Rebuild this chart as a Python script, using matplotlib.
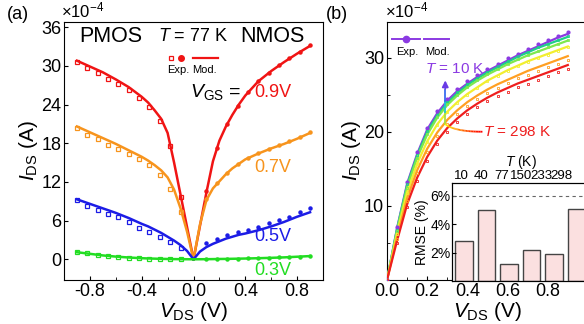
import matplotlib
matplotlib.use('Agg')
import matplotlib.pyplot as plt
from matplotlib.collections import LineCollection
import numpy as np

plt.rcParams['font.family'] = ['Liberation Sans', 'DejaVu Sans']
plt.rcParams['mathtext.fontset'] = 'custom'
plt.rcParams['mathtext.rm'] = 'Liberation Sans'
plt.rcParams['mathtext.it'] = 'Liberation Sans:italic'
plt.rcParams['xtick.direction'] = 'in'
plt.rcParams['ytick.direction'] = 'in'

# ---- (a) output curves at 77 K, |I_DS| in 1e-4 A ----
vds_p = [-0.9, -0.8, -0.7, -0.6, -0.5, -0.4, -0.35, -0.3, -0.25, -0.2, -0.15, -0.1, -0.05, 0.0]
vds_n = [0.0, 0.05, 0.1, 0.15, 0.2, 0.25, 0.3, 0.35, 0.4, 0.5, 0.6, 0.7, 0.8, 0.9]
vgs_labels = ['0.9V', '0.7V', '0.5V', '0.3V']
mod_p = {
    '0.9V': [30.8, 29.9, 29.0, 27.9, 26.7, 25.2, 24.3, 23.1, 21.8, 19.6, 15.0, 10.0, 5.0, 0.0],
    '0.7V': [20.6, 19.7, 18.8, 17.9, 16.9, 15.9, 15.3, 14.6, 13.8, 12.7, 10.8, 7.9, 4.3, 0.0],
    '0.5V': [9.3, 8.6, 7.9, 7.2, 6.4, 5.5, 5.1, 4.6, 4.1, 3.5, 2.9, 2.2, 1.3, 0.0],
    '0.3V': [1.1, 0.85, 0.6, 0.42, 0.28, 0.17, 0.13, 0.1, 0.07, 0.05, 0.03, 0.02, 0.01, 0.0],
}
mod_n = {
    '0.9V': [0.0, 5.2, 10.4, 15.2, 18.4, 20.6, 22.4, 24.0, 25.4, 27.6, 29.2, 30.6, 31.9, 33.1],
    '0.7V': [0.0, 5.4, 9.2, 11.0, 12.1, 13.2, 14.1, 14.8, 15.5, 16.4, 17.2, 17.9, 18.7, 19.6],
    '0.5V': [0.0, 1.2, 1.9, 2.4, 2.8, 3.2, 3.5, 3.8, 4.0, 4.5, 5.1, 5.8, 6.6, 7.3],
    '0.3V': [0.0, 0.01, 0.02, 0.03, 0.05, 0.06, 0.08, 0.1, 0.12, 0.17, 0.23, 0.3, 0.4, 0.5],
}
vexp_p = [-0.9, -0.82, -0.74, -0.66, -0.58, -0.5, -0.42, -0.34, -0.26, -0.18, -0.1]
vexp_n = [0.1, 0.18, 0.26, 0.34, 0.42, 0.5, 0.58, 0.66, 0.74, 0.82, 0.9]
exp_p = {
    '0.9V': [30.6, 29.6, 28.9, 28.0, 27.2, 26.2, 25.0, 23.6, 21.5, 17.6, 9.6],
    '0.7V': [20.3, 19.3, 18.6, 17.8, 17.1, 16.4, 15.5, 14.6, 13.1, 10.9, 7.3],
    '0.5V': [9.2, 8.2, 7.7, 7.1, 6.6, 5.8, 4.9, 4.3, 3.5, 2.7, 1.7],
    '0.3V': [1.2, 0.95, 0.7, 0.5, 0.35, 0.25, 0.18, 0.12, 0.08, 0.05, 0.03],
}
exp_n = {
    '0.9V': [10.6, 17.3, 21.0, 23.8, 25.9, 27.6, 28.9, 30.1, 31.2, 32.2, 33.2],
    '0.7V': [9.4, 11.8, 13.4, 14.8, 15.7, 16.5, 17.1, 17.7, 18.3, 18.9, 19.8],
    '0.5V': [2.5, 3.2, 3.8, 4.2, 4.6, 5.0, 5.6, 6.1, 6.6, 7.3, 8.0],
    '0.3V': [0.03, 0.05, 0.07, 0.1, 0.13, 0.18, 0.23, 0.28, 0.34, 0.42, 0.52],
}
vgs_colors = {'0.9V': '#f01414', '0.7V': '#f7941d', '0.5V': '#1c1ce6', '0.3V': '#22dd22'}
vgs_label_pos = {'0.9V': (0.47, 25.8), '0.7V': (0.47, 14.2), '0.5V': (0.47, 3.5), '0.3V': (0.47, -1.7)}

# ---- (b) NMOS output curves vs temperature ----
vds_b = [0.0, 0.05, 0.1, 0.15, 0.2, 0.25, 0.3, 0.35, 0.4, 0.45, 0.5,
         0.55, 0.6, 0.65, 0.7, 0.75, 0.8, 0.85, 0.9]
temps = ['10', '40', '77', '150', '233', '298']
mod_b = {
    '10': [0, 7.0, 13.0, 17.0, 20.3, 22.5, 24.2, 25.5, 26.5, 27.4, 28.2, 28.9, 29.6, 30.3, 30.9, 31.5, 32.1, 32.7, 33.2],
    '40': [0, 6.9, 12.8, 16.8, 20.0, 22.2, 23.9, 25.2, 26.3, 27.2, 28.0, 28.7, 29.4, 30.1, 30.7, 31.3, 31.8, 32.3, 32.8],
    '77': [0, 6.7, 12.5, 16.5, 19.6, 21.9, 23.6, 24.9, 26.0, 26.9, 27.7, 28.4, 29.1, 29.7, 30.3, 30.8, 31.3, 31.8, 32.3],
    '150': [0, 6.3, 11.8, 15.7, 18.7, 21.0, 22.7, 24.0, 25.1, 26.0, 26.9, 27.6, 28.3, 28.9, 29.5, 30.0, 30.5, 31.0, 31.5],
    '233': [0, 5.8, 11.0, 14.8, 17.7, 19.9, 21.6, 22.9, 24.0, 24.9, 25.7, 26.4, 27.0, 27.6, 28.2, 28.7, 29.2, 29.7, 30.2],
    '298': [0, 5.3, 10.2, 13.8, 16.6, 18.8, 20.5, 21.8, 22.9, 23.8, 24.6, 25.3, 25.9, 26.5, 27.0, 27.5, 28.0, 28.5, 29.0],
}
exp_b = {
    '10': [0, 7.2, 13.2, 17.3, 20.5, 22.8, 24.4, 25.7, 26.8, 27.6, 28.4, 29.2, 29.9, 30.5, 31.2, 31.8, 32.4, 32.9, 33.5],
    '40': [0, 6.8, 12.9, 16.9, 20.1, 22.3, 24.0, 25.3, 26.4, 27.3, 28.1, 28.8, 29.5, 30.2, 30.8, 31.4, 31.9, 32.4, 32.9],
    '77': [0, 6.6, 12.4, 16.5, 19.7, 22.0, 23.7, 25.0, 26.1, 27.0, 27.8, 28.5, 29.2, 29.8, 30.4, 30.9, 31.4, 31.9, 32.4],
    '150': [0, 6.2, 11.7, 15.6, 18.6, 20.9, 22.6, 23.9, 25.0, 25.9, 26.8, 27.5, 28.2, 28.8, 29.4, 29.9, 30.4, 30.9, 31.4],
    '233': [0, 5.5, 10.6, 14.4, 17.3, 19.4, 21.1, 22.4, 23.5, 24.4, 25.2, 25.9, 26.6, 27.2, 27.7, 28.2, 28.7, 29.2, 29.7],
    '298': [0, 5.0, 9.8, 13.4, 16.1, 18.3, 20.0, 21.3, 22.4, 23.3, 24.1, 24.8, 25.4, 26.0, 26.5, 27.0, 27.5, 28.0, 28.5],
}
temp_colors = {'10': '#8b3ae2', '40': '#1fcf8a', '77': '#7ee84e', '150': '#f2ee30',
               '233': '#ff9f22', '298': '#ee1e1e'}

# RMSE of the model per temperature (%)
rmse = [2.8, 5.0, 1.2, 2.15, 1.9, 5.1]

fig = plt.figure(figsize=(5.84, 3.24), dpi=100)

# ================= (a) =================
ax = fig.add_axes([0.1096, 0.136, 0.4435, 0.796])
for v in vgs_labels:
    c = vgs_colors[v]
    ax.plot(vds_p, mod_p[v], color=c, lw=1.8)
    ax.plot(vds_n, mod_n[v], color=c, lw=1.8)
    ax.plot(vexp_p, exp_p[v], 's', color=c, ms=2.2, mfc='none', mew=0.9)
    ax.plot(vexp_n, exp_n[v], 'o', color=c, ms=2.2)
    ax.text(*vgs_label_pos[v], v, color=c, fontsize=13, va='center', ha='left')

ax.set_xlim(-1.0, 1.0)
ax.set_ylim(-3.2, 36.8)
ax.set_xticks([-0.8, -0.4, 0.0, 0.4, 0.8])
ax.set_xticklabels(['-0.8', '-0.4', '0.0', '0.4', '0.8'])
ax.set_xticks([-0.6, -0.2, 0.2, 0.6], minor=True)
ax.set_yticks([0, 6, 12, 18, 24, 30, 36])
ax.tick_params(labelsize=13, length=3, pad=2)
ax.tick_params(which='minor', length=2)
ax.set_xlabel(r'$V_{\rm DS}$ (V)', fontsize=15, labelpad=0)
ax.set_ylabel(r'$I_{\rm DS}$ (A)', fontsize=15, labelpad=1)
ax.text(-0.01, 1.005, r'$\times$10$^{-4}$', transform=ax.transAxes, fontsize=12, va='bottom', ha='left')
fig.text(0.012, 0.955, '(a)', fontsize=13, va='center')

ax.text(0.06, 0.945, 'PMOS', transform=ax.transAxes, fontsize=15.5, va='center')
ax.text(0.93, 0.945, 'NMOS', transform=ax.transAxes, fontsize=15.5, va='center', ha='right')
ax.text(0.5, 0.945, r'$T$ = 77 K', transform=ax.transAxes, fontsize=13, va='center', ha='center')
ax.text(0.485, 0.728, r'$V_{\rm GS}$ =', transform=ax.transAxes, fontsize=14, va='center', ha='left')

# legend keys
ax.plot([0.413], [0.862], 's', transform=ax.transAxes, color='#f01414', ms=3.5, mfc='none', mew=0.9)
ax.plot([0.452], [0.862], 'o', transform=ax.transAxes, color='#f01414', ms=4)
ax.plot([0.498, 0.595], [0.862, 0.862], transform=ax.transAxes, color='#f01414', lw=1.6)
ax.text(0.40, 0.815, 'Exp.', transform=ax.transAxes, fontsize=8, va='center')
ax.text(0.495, 0.815, 'Mod.', transform=ax.transAxes, fontsize=8, va='center')

# ================= (b) =================
bx = fig.add_axes([0.6627, 0.136, 0.344, 0.796])
for t in temps:
    c = temp_colors[t]
    bx.plot(vds_b, mod_b[t], color=c, lw=1.6, zorder=3)
    if t == '10':
        bx.plot(vds_b, exp_b[t], 'o', color=c, ms=2.0, zorder=4)
    else:
        bx.plot(vds_b, exp_b[t], 's', color=c, ms=1.8, mfc='none', mew=0.6, zorder=4)

bx.set_xlim(0, 1.0)
bx.set_ylim(0, 34.8)
bx.set_xticks([0.0, 0.2, 0.4, 0.6, 0.8])
bx.set_xticks([0.1, 0.3, 0.5, 0.7, 0.9], minor=True)
bx.set_yticks([10, 20, 30])
bx.set_yticks([5, 15, 25], minor=True)
bx.tick_params(labelsize=13, length=3, pad=2)
bx.tick_params(which='minor', length=2)
bx.set_xlabel(r'$V_{\rm DS}$ (V)', fontsize=15, labelpad=0)
bx.set_ylabel(r'$I_{\rm DS}$ (A)', fontsize=15, labelpad=1)
bx.text(-0.01, 1.005, r'$\times$10$^{-4}$', transform=bx.transAxes, fontsize=12, va='bottom', ha='left')
fig.text(0.558, 0.955, '(b)', fontsize=13, va='center')

# legend keys
purple = temp_colors['10']
bx.plot([0.025, 0.165], [0.935, 0.935], transform=bx.transAxes, color=purple, lw=1.4)
bx.plot([0.095], [0.935], 'o', transform=bx.transAxes, color=purple, ms=4.5)
bx.plot([0.185, 0.31], [0.935, 0.935], transform=bx.transAxes, color=purple, lw=1.4)
bx.text(0.045, 0.885, 'Exp.', transform=bx.transAxes, fontsize=8, va='center')
bx.text(0.19, 0.885, 'Mod.', transform=bx.transAxes, fontsize=8, va='center')

bx.text(0.19, 28.4, r'$T$ = 10 K', color=purple, fontsize=11, va='center')
bx.text(0.48, 20.0, r'$T$ = 298 K', color=temp_colors['298'], fontsize=11, va='center')

# arrow pointing up toward the 10 K label, shaded from green to violet
stem = [(0.29, 21.0), (0.29, 22.6), (0.29, 24.2), (0.29, 25.6)]
stem_cols = ['#a8e040', '#20c8d0', '#3a6cf0']
for (p0, p1, col) in zip(stem[:-1], stem[1:], stem_cols):
    bx.plot([p0[0], p1[0]], [p0[1], p1[1]], color=col, lw=1.3, zorder=6)
bx.annotate('', xy=(0.29, 27.3), xytext=(0.29, 25.4),
            arrowprops=dict(arrowstyle='-|>', color='#6a3be6', lw=1.3,
                            mutation_scale=9), zorder=6)

# curved lead from the 298 K label, red to yellow
s = np.linspace(0, 1, 30)
p0, p1, p2 = np.array([0.475, 20.0]), np.array([0.34, 20.0]), np.array([0.29, 21.0])
pts = ((1 - s)[:, None] ** 2) * p0 + (2 * (1 - s) * s)[:, None] * p1 + (s ** 2)[:, None] * p2
segs = np.stack([pts[:-1], pts[1:]], axis=1)
lc = LineCollection(segs, cmap='autumn', lw=1.3, zorder=6)
lc.set_array(s[:-1])
bx.add_collection(lc)

# ---- inset: RMSE per temperature ----
ix = fig.add_axes([0.774, 0.133, 0.236, 0.302])
pos = np.arange(len(temps))
ix.bar(pos, rmse, width=0.78, color='#fbe0e0', edgecolor='#444444', lw=1.0)
ix.axhline(6, color='#666666', ls='--', lw=0.8, dashes=(3, 3))
ix.set_xlim(-0.53, 5.6)
ix.set_ylim(0, 6.9)
ix.set_xticks([])
ix.set_yticks([2, 4, 6])
ix.set_yticklabels(['2%', '4%', '6%'])
ix.tick_params(labelsize=10, length=3, pad=1)
ix.set_ylabel('RMSE (%)', fontsize=10, labelpad=1)
top = ix.twiny()
top.set_xlim(-0.445, 6.39)
top.set_xticks(pos)
top.set_xticklabels(temps)
top.tick_params(labelsize=9.5, length=0, pad=1)
top.set_xlabel(r'$T$ (K)', fontsize=10, labelpad=3)

fig.savefig('out.png', dpi=100)
